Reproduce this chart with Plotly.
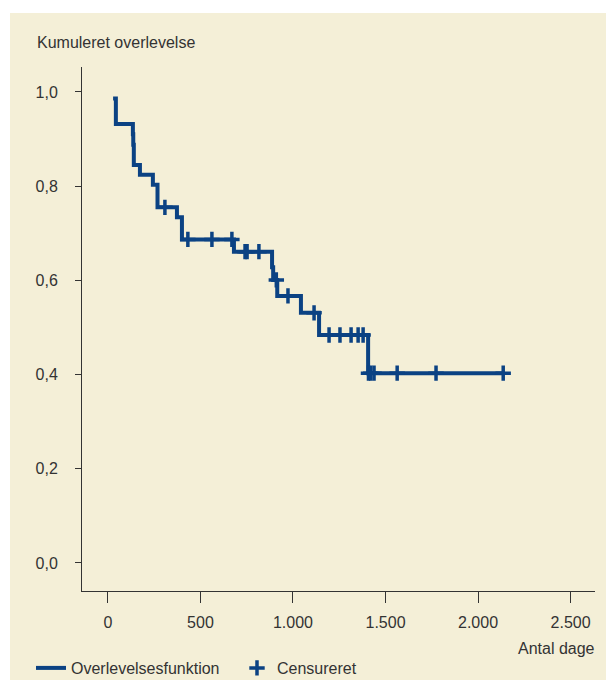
import plotly.graph_objects as go

# Step data (Kaplan-Meier survival curve)
event_days = [28, 43, 135, 137, 140, 173, 243, 268, 373, 400, 681, 887, 893, 915, 1043, 1141, 1406, 2136]
survival = [0.986, 0.932, 0.910, 0.888, 0.845, 0.824, 0.803, 0.755, 0.734, 0.687, 0.661, 0.628, 0.601, 0.567, 0.531, 0.484, 0.403, 0.403]

# Censored observations (days)
censored_days = [308, 432, 562, 670, 741, 752, 816, 910, 973, 1114, 1195, 1254, 1314, 1352, 1379,
                 1408, 1420, 1438, 1563, 1773, 2136]

x_tickvals = [0, 500, 1000, 1500, 2000, 2500]
x_ticktext = ["0", "500", "1.000", "1.500", "2.000", "2.500"]
y_tickvals = [0.0, 0.2, 0.4, 0.6, 0.8, 1.0]
y_ticktext = ["0,0", "0,2", "0,4", "0,6", "0,8", "1,0"]


def surv_at(t):
    s = survival[0]
    for d, v in zip(event_days, survival):
        if d <= t:
            s = v
    return s


censored_surv = [surv_at(t) for t in censored_days]

BLUE = "#0B4283"
BG = "#F4EFD7"
AX = "#333333"
FONT = "Liberation Sans, Arial, sans-serif"

fig = go.Figure()
fig.add_trace(go.Scatter(
    x=event_days, y=survival, mode="lines", line=dict(shape="hv", color=BLUE, width=4),
    name="Overlevelsesfunktion"))
fig.add_trace(go.Scatter(
    x=censored_days, y=censored_surv, mode="markers",
    marker=dict(symbol="cross-thin", size=11, line=dict(color=BLUE, width=3.5), color=BLUE),
    name="Censureret"))

W, H = 606, 682
L, R, T, B = 82, 11, 67, 91
pw, ph = W - L - R, H - T - B


def px(X):
    return (X - L) / pw


def py(Y):
    return (H - B - Y) / ph


fig.update_layout(
    width=W, height=H,
    margin=dict(l=L, r=R, t=T, b=B, autoexpand=False),
    paper_bgcolor="white", plot_bgcolor=BG,
    font=dict(family=FONT, size=16, color=AX),
    showlegend=True,
    legend=dict(orientation="h", x=px(31), xanchor="left", y=py(668), yanchor="middle",
                bgcolor="rgba(0,0,0,0)", font=dict(size=16, color=AX), itemwidth=30,
                entrywidth=161, entrywidthmode="pixels", tracegroupgap=0),
    xaxis=dict(range=[-140, 2632], tickvals=x_tickvals, ticktext=x_ticktext,
               showgrid=False, zeroline=False, showline=True, linecolor=AX, linewidth=1,
               ticks="outside", ticklen=11, tickcolor=AX, tickwidth=1, ticklabelstandoff=6),
    yaxis=dict(range=[-0.0595, 1.053], tickvals=y_tickvals, ticktext=y_ticktext,
               showgrid=False, zeroline=False, showline=True, linecolor=AX, linewidth=1,
               ticks="outside", ticklen=6, tickcolor=AX, tickwidth=1, ticklabelstandoff=14),
    shapes=[dict(type="rect", xref="paper", yref="paper", x0=px(10), x1=px(606), y0=py(680), y1=py(13),
                 fillcolor=BG, line=dict(width=0), layer="below")],
    annotations=[
        dict(text="Kumuleret overlevelse", xref="paper", yref="paper", x=px(35), y=py(42),
             xanchor="left", yanchor="middle", showarrow=False, font=dict(size=16, color=AX)),
        dict(text="Antal dage", xref="paper", yref="paper", x=px(597), y=py(648),
             xanchor="right", yanchor="middle", showarrow=False, font=dict(size=16, color=AX)),
    ],
)

fig.write_html("out.html", config={"displayModeBar": False},
               post_script="document.body.style.margin='0';document.body.style.overflow='hidden';")
